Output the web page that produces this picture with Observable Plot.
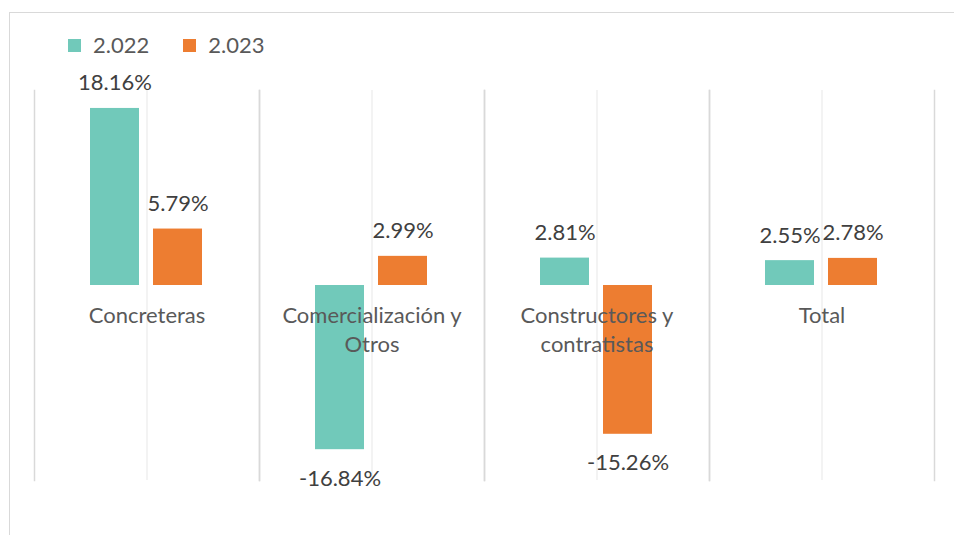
<!DOCTYPE html>
<html>
<head>
<meta charset="utf-8">
<script src="https://cdn.jsdelivr.net/npm/d3@7"></script>
<script src="https://cdn.jsdelivr.net/npm/@observablehq/plot@0.6"></script>
<style>
  body { margin: 0; background: #fff; }
  #chart { position: relative; width: 954px; height: 535px; overflow: hidden; font-family: Lato, "Open Sans", sans-serif; }
  #border { position: absolute; left: 9px; top: 12px; width: 2000px; height: 2000px; border-left: 1px solid #d9d9d9; border-top: 1px solid #d9d9d9; }
  #legend { position: absolute; left: 68px; top: 33px; display: flex; align-items: center; font-size: 22px; color: #595959; line-height: 24px; }
  #legend .item { display: flex; align-items: center; margin-right: 34px; }
  #legend .sw { width: 13px; height: 13px; margin-right: 12px; }
  #plot { position: absolute; left: 0; top: 60px; }
</style>
</head>
<body>
<div id="chart">
  <div id="border"></div>
  <div id="legend"></div>
  <div id="plot"></div>
</div>
<script>
const categories = ["Concreteras", "Comercialización y Otros", "Constructores y contratistas", "Total"];
const categoryLabels = ["Concreteras", "Comercialización y\nOtros", "Constructores y\ncontratistas", "Total"];
const years = ["2.022", "2.023"];
const values2022 = [18.16, -16.84, 2.81, 2.55];
const values2023 = [5.79, 2.99, -15.26, 2.78];
const colors = ["#71c9ba", "#ed7d31"];

const data = [];
categories.forEach((c, i) => {
  data.push({category: c, year: years[0], value: values2022[i]});
  data.push({category: c, year: years[1], value: values2023[i]});
});
const cats = categories.map((c, i) => ({category: c, label: categoryLabels[i], zero: 0}));
const fmt = v => v.toFixed(2) + "%";

const legend = document.getElementById("legend");
years.forEach((y, i) => {
  const it = document.createElement("div");
  it.className = "item";
  it.innerHTML = `<span class="sw" style="background:${colors[i]}"></span><span>${y}</span>`;
  legend.appendChild(it);
});

const chart = Plot.plot({
  width: 954,
  height: 475,
  marginLeft: 33,
  marginRight: 19,
  marginTop: 30,
  marginBottom: 55,
  style: {fontFamily: "Lato, 'Open Sans', sans-serif", background: "transparent"},
  fx: {domain: categories, padding: 0, axis: null},
  x: {domain: years, paddingInner: 0.21875, paddingOuter: 0.871, axis: null},
  y: {domain: [-20, 20], axis: null},
  color: {domain: years, range: colors},
  marks: [
    Plot.ruleX(cats, {fx: "category", x: null, stroke: "#efefef", strokeWidth: 1.5}),
    Plot.frame({anchor: "left", stroke: "#d9d9d9", strokeWidth: 1.5}),
    Plot.frame({anchor: "right", stroke: "#d9d9d9", strokeWidth: 1.5}),
    Plot.barY(data, {fx: "category", x: "year", y: "value", fill: "year"}),
    Plot.text(data.filter(d => d.value >= 0), {fx: "category", x: "year", y: "value", text: d => fmt(d.value), dy: -25, fontSize: 22, fill: "#404040"}),
    Plot.text(data.filter(d => d.value < 0), {fx: "category", x: "year", y: "value", text: d => fmt(d.value), dy: 29, fontSize: 22, fill: "#404040"}),
    Plot.text(cats, {fx: "category", y: "zero", text: "label", lineAnchor: "top", dy: 17, lineHeight: 1.32, fontSize: 22, fill: "#595959"})
  ]
});
document.getElementById("plot").appendChild(chart);
</script>
</body>
</html>
